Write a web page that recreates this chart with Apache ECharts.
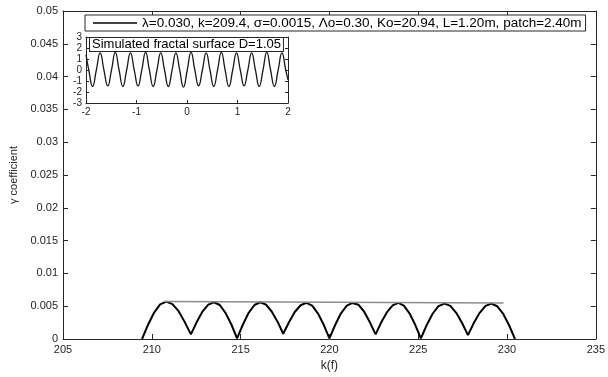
<!DOCTYPE html>
<html>
<head>
<meta charset="utf-8">
<script src="https://cdn.jsdelivr.net/npm/echarts@6/dist/echarts.min.js"></script>
<style>
html,body{margin:0;padding:0;background:#fff;}
#chart{width:608px;height:377px;}
</style>
</head>
<body>
<div id="chart"></div>
<script>
// ---- Data ----
const xTicks = [205, 210, 215, 220, 225, 230, 235];
const yTicks = [0, 0.005, 0.01, 0.015, 0.02, 0.025, 0.03, 0.035, 0.04, 0.045, 0.05];

// main gamma-coefficient curve: k(f) values
const kValues = [
  209.45, 209.79, 210.13, 210.47, 210.82, 211.16, 211.51, 211.85,
  212.2, 212.53, 212.85, 213.18, 213.5, 213.83, 214.15, 214.48,
  214.8, 215.13, 215.45, 215.78, 216.1, 216.43, 216.75, 217.08,
  217.4, 217.73, 218.05, 218.38, 218.7, 219.03, 219.35, 219.68,
  220.0, 220.33, 220.65, 220.98, 221.3, 221.63, 221.95, 222.28,
  222.6, 222.92, 223.24, 223.56, 223.88, 224.19, 224.51, 224.83,
  225.15, 225.48, 225.81, 226.14, 226.48, 226.81, 227.14, 227.47,
  227.8, 228.13, 228.46, 228.79, 229.12, 229.45, 229.79, 230.12,
  230.45
];
const gammaValues = [
  0, 0.00218, 0.00403, 0.00527, 0.0057, 0.00532, 0.00424, 0.00261,
  0.0007, 0.00258, 0.00417, 0.00523, 0.0056, 0.00518, 0.00399, 0.00221,
  0.0001, 0.00221, 0.00399, 0.00518, 0.0056, 0.00523, 0.00419, 0.00264,
  0.0008, 0.0026, 0.00412, 0.00514, 0.0055, 0.00509, 0.00392, 0.00217,
  0.0001, 0.00217, 0.00392, 0.00509, 0.0055, 0.00523, 0.00419, 0.00254,
  0.0007, 0.00254, 0.00409, 0.00513, 0.0055, 0.00509, 0.00392, 0.00217,
  0.0001, 0.00213, 0.00385, 0.005, 0.0054, 0.00504, 0.00399, 0.00244,
  0.0006, 0.00244, 0.00399, 0.00504, 0.0054, 0.00499, 0.00382, 0.00207,
  0
];

// grey peak line (slope fit)
const slopeK = [210.7, 229.8];
const slopeGamma = [0.0057, 0.0055];

// inset: simulated fractal surface
const surfX = [
  -2.0, -1.945, -1.87, -1.795, -1.72, -1.645, -1.57, -1.495, -1.42, -1.345,
  -1.27, -1.195, -1.12, -1.045, -0.97, -0.895, -0.82, -0.745, -0.67, -0.595,
  -0.52, -0.445, -0.37, -0.295, -0.22, -0.145, -0.07, 0.005, 0.08, 0.155,
  0.23, 0.305, 0.38, 0.455, 0.53, 0.605, 0.68, 0.755, 0.83, 0.905,
  0.98, 1.055, 1.13, 1.205, 1.28, 1.355, 1.43, 1.505, 1.58, 1.655,
  1.73, 1.805, 1.88, 1.955, 2.0
];
const surfY = [
  1.4, 0, -1.5, 0, 1.55, 0, -1.45, 0, 1.6, 0,
  -1.5, 0, 1.55, 0, -1.45, 0, 1.6, 0, -1.5, 0,
  1.55, 0, -1.5, 0, 1.55, 0, -1.55, 0, 1.6, 0,
  -1.45, 0, 1.55, 0, -1.5, 0, 1.6, 0, -1.5, 0,
  1.55, 0, -1.45, 0, 1.55, 0, -1.5, 0, 1.6, 0,
  -1.5, 0, 1.55, 0, -0.9
];

const legendText = 'λ=0.030, k=209.4, σ=0.0015, Λo=0.30, Ko=20.94, L=1.20m, patch=2.40m';
const insetTitle = 'Simulated fractal surface D=1.05';
const slopeText = 'slope=0.0000';
const xName = 'k(f)';
const yName = 'γ coefficient';

// ---- Chart ----
const FONT = 'Liberation Sans, Arial, sans-serif';
const TXT = '#262626';
const chart = echarts.init(document.getElementById('chart'), null, {renderer: 'canvas'});

const main = {left: 63, right: 11, top: 11, bottom: 38};
const inset = {left: 86, right: 608 - 288, top: 37, bottom: 377 - 103};

function zip(a, b) { return a.map((v, i) => [v, b[i]]); }

const tickIn = {show: true, inside: true, length: 5, lineStyle: {color: TXT, width: 1}};
const tickInS = {show: true, inside: true, length: 3, lineStyle: {color: TXT, width: 1}};
const lineAx = {show: true, onZero: false, lineStyle: {color: TXT, width: 1}};

const option = {
  animation: false,
  backgroundColor: '#fff',
  grid: [
    {left: main.left, right: main.right, top: main.top, bottom: main.bottom, containLabel: false},
    {left: inset.left, right: inset.right, top: inset.top, bottom: inset.bottom, containLabel: false,
     show: true, backgroundColor: '#fff', borderWidth: 0, z: 5}
  ],
  xAxis: [
    {gridIndex: 0, type: 'value', min: 205, max: 235, interval: 5, position: 'bottom',
     name: xName, nameLocation: 'middle', nameGap: 16,
     nameTextStyle: {fontFamily: FONT, fontSize: 12, color: TXT},
     axisLine: lineAx, axisTick: tickIn, splitLine: {show: false},
     axisLabel: {fontFamily: FONT, fontSize: 11, color: TXT, margin: 5, showMinLabel: true, showMaxLabel: true}},
    {gridIndex: 0, type: 'value', min: 205, max: 235, interval: 5, position: 'top',
     axisLine: lineAx, axisTick: tickIn, splitLine: {show: false}, axisLabel: {show: false}},
    {gridIndex: 1, type: 'value', min: -2, max: 2, interval: 1, position: 'bottom',
     axisLine: lineAx, axisTick: tickInS, splitLine: {show: false},
     axisLabel: {fontFamily: FONT, fontSize: 10, color: TXT, margin: 4}, z: 6},
    {gridIndex: 1, type: 'value', min: -2, max: 2, interval: 1, position: 'top',
     axisLine: lineAx, axisTick: tickInS, splitLine: {show: false},
     axisLabel: {show: false}, z: 6}
  ],
  yAxis: [
    {gridIndex: 0, type: 'value', min: 0, max: 0.05, interval: 0.005, position: 'left',
     name: yName, nameLocation: 'middle', nameGap: 36, nameRotate: 90,
     nameTextStyle: {fontFamily: FONT, fontSize: 11, color: TXT},
     axisLine: lineAx, axisTick: tickIn, splitLine: {show: false},
     axisLabel: {fontFamily: FONT, fontSize: 11, color: TXT, margin: 5,
       formatter: v => String(+v.toFixed(4))}},
    {gridIndex: 0, type: 'value', min: 0, max: 0.05, interval: 0.005, position: 'right',
     axisLine: lineAx, axisTick: tickIn, splitLine: {show: false}, axisLabel: {show: false}},
    {gridIndex: 1, type: 'value', min: -3, max: 3, interval: 1, position: 'left',
     axisLine: lineAx, axisTick: tickInS, splitLine: {show: false},
     axisLabel: {fontFamily: FONT, fontSize: 10, color: TXT, margin: 4}, z: 6},
    {gridIndex: 1, type: 'value', min: -3, max: 3, interval: 1, position: 'right',
     axisLine: lineAx, axisTick: tickInS, splitLine: {show: false},
     axisLabel: {show: false}, z: 6}
  ],
  legend: {
    data: [{name: legendText, icon: 'rect'}],
    left: 85, top: 15,
    itemWidth: 44, itemHeight: 1.5, itemGap: 5,
    padding: [1, 4, 1, 8],
    borderColor: '#262626', borderWidth: 1, backgroundColor: '#fff',
    textStyle: {fontFamily: FONT, fontSize: 13.5, color: '#000'},
    selectedMode: false, z: 10
  },
  series: [
    {name: legendText, type: 'line', xAxisIndex: 0, yAxisIndex: 0,
     data: zip(kValues, gammaValues), symbol: 'none', smooth: false,
     lineStyle: {color: '#000', width: 2}, itemStyle: {color: '#000'}, z: 3},
    {name: 'slope', type: 'line', xAxisIndex: 0, yAxisIndex: 0,
     data: zip(slopeK, slopeGamma), symbol: 'none',
     lineStyle: {color: '#8c8c8c', width: 1.5}, z: 4,
     markPoint: {
       symbol: 'none',
       data: [{coord: [220.4, 0.0066], value: slopeText}],
       label: {show: true, formatter: slopeText, fontFamily: FONT, fontSize: 13.5, color: '#000'}
     }},
    {name: 'surface', type: 'line', xAxisIndex: 2, yAxisIndex: 2,
     data: zip(surfX, surfY), symbol: 'none', smooth: true,
     lineStyle: {color: '#1a1a1a', width: 1.3}, z: 7}
  ],
  graphic: [
    {type: 'text', left: inset.left + 3, top: inset.top, z: 20,
     style: {text: insetTitle, font: '13px ' + FONT, fill: '#000',
       backgroundColor: '#fff', borderColor: '#262626', borderWidth: 1, padding: [0, 2, 0, 2]}}
  ]
};
chart.setOption(option);
</script>
</body>
</html>
